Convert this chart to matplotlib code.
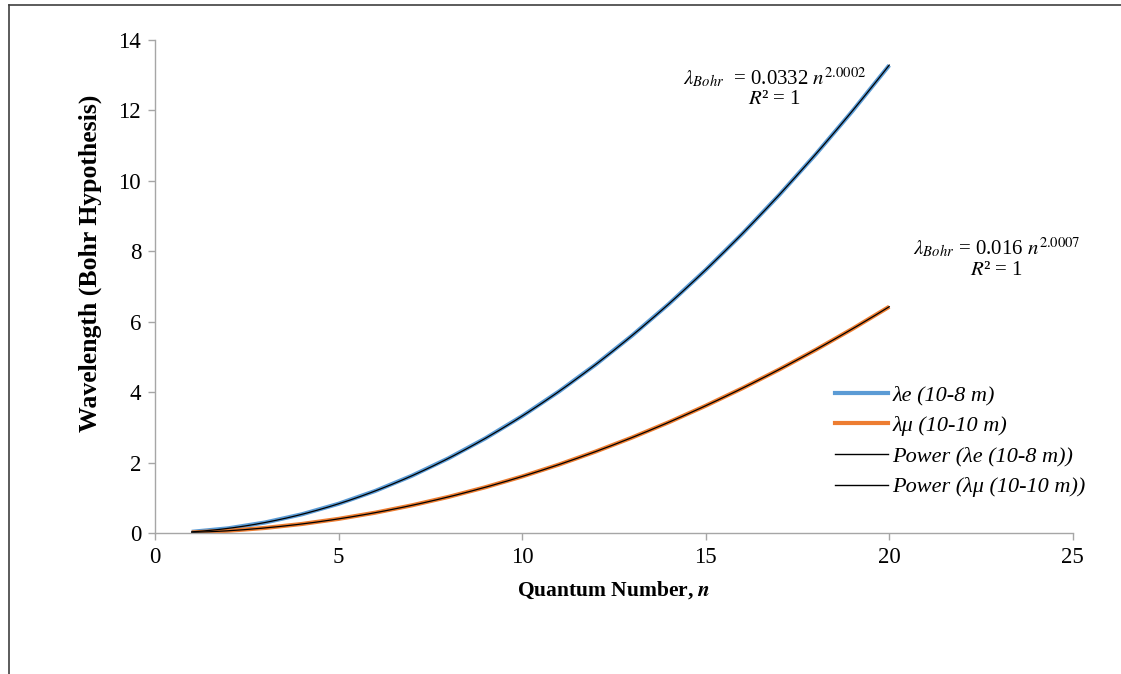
import numpy as np
import matplotlib
matplotlib.use("Agg")
import matplotlib.pyplot as plt
from matplotlib.lines import Line2D

plt.rcParams['font.family'] = ['Liberation Serif', 'DejaVu Serif']
plt.rcParams['mathtext.fontset'] = 'stix'

# quantum number and wavelengths
n = [1, 2, 3, 4, 5, 6, 7, 8, 9, 10, 11, 12, 13, 14, 15, 16, 17, 18, 19, 20]
lam_e = [0.033, 0.133, 0.299, 0.531, 0.830, 1.195, 1.627, 2.125, 2.689, 3.320,
         4.017, 4.781, 5.611, 6.507, 7.470, 8.499, 9.595, 10.757, 11.985, 13.28]
lam_mu = [0.016, 0.064, 0.144, 0.256, 0.401, 0.577, 0.786, 1.027, 1.300, 1.605,
          1.942, 2.312, 2.713, 3.147, 3.613, 4.111, 4.641, 5.204, 5.798, 6.425]

blue = '#5b9bd5'
orange = '#ed7d31'
grey = '#a6a6a6'

def power_fit(x, y):
    b, loga = np.polyfit(np.log(x), np.log(y), 1)
    xs = np.linspace(min(x), max(x), 200)
    return xs, np.exp(loga) * xs ** b

fig = plt.figure(figsize=(11.21, 6.74), dpi=100)
ax = fig.add_axes([0.1383, 0.2092, 0.8187, 0.7315])

ax.plot(n, lam_e, color=blue, lw=3.0, solid_capstyle='butt')
ax.plot(n, lam_mu, color=orange, lw=3.0, solid_capstyle='butt')
xs, ys = power_fit(n, lam_e)
ax.plot(xs, ys, color='black', lw=0.9)
xs, ys = power_fit(n, lam_mu)
ax.plot(xs, ys, color='black', lw=0.9)

ax.set_xlim(0, 25)
ax.set_ylim(0, 14)
ax.set_xticks([0, 5, 10, 15, 20, 25])
ax.set_yticks([0, 2, 4, 6, 8, 10, 12, 14])
for s in ['top', 'right']:
    ax.spines[s].set_visible(False)
for s in ['left', 'bottom']:
    ax.spines[s].set_color(grey)
    ax.spines[s].set_linewidth(1.0)
ax.tick_params(direction='out', length=5, width=1, color=grey,
               labelsize=16.5, pad=5)

ax.set_xlabel('Quantum Number, $\\boldsymbol{n}$', fontsize=15.5, fontweight='bold', labelpad=8)
ax.set_ylabel('Wavelength (Bohr Hypothesis)', fontsize=18.5, fontweight='bold')
ax.yaxis.set_label_coords(-0.058, 0.548)

ax.text(16.88, 12.65, '$\\lambda_{Bohr}$  = 0.0332 $n^{2.0002}$\n$R$² = 1',
        fontsize=15, ha='center', va='center', linespacing=1.05)
ax.text(22.93, 7.8, '$\\lambda_{Bohr}$ = 0.016 $n^{2.0007}$\n$R$² = 1',
        fontsize=15, ha='center', va='center', linespacing=1.05)

handles = [Line2D([], [], color=blue, lw=3.0),
           Line2D([], [], color=orange, lw=3.0),
           Line2D([], [], color='black', lw=1.0),
           Line2D([], [], color='black', lw=1.0)]
labels = ['λe (10-8 m)', 'λμ (10-10 m)', 'Power (λe (10-8 m))', 'Power (λμ (10-10 m))']
ax.legend(handles, labels, loc='upper left', bbox_to_anchor=(0.731, 0.318),
          frameon=False, prop={'style': 'italic', 'size': 16},
          handlelength=2.4, handletextpad=0.2, labelspacing=0.45, borderaxespad=0)

# outer frame lines visible along the top and left edges
fig.add_artist(Line2D([0.008, 1.0], [0.9925, 0.9925], color='#404040', lw=1.2,
                      transform=fig.transFigure))
fig.add_artist(Line2D([0.008, 0.008], [0.0, 0.9925], color='#404040', lw=1.2,
                      transform=fig.transFigure))

fig.savefig('out.png', dpi=100)
